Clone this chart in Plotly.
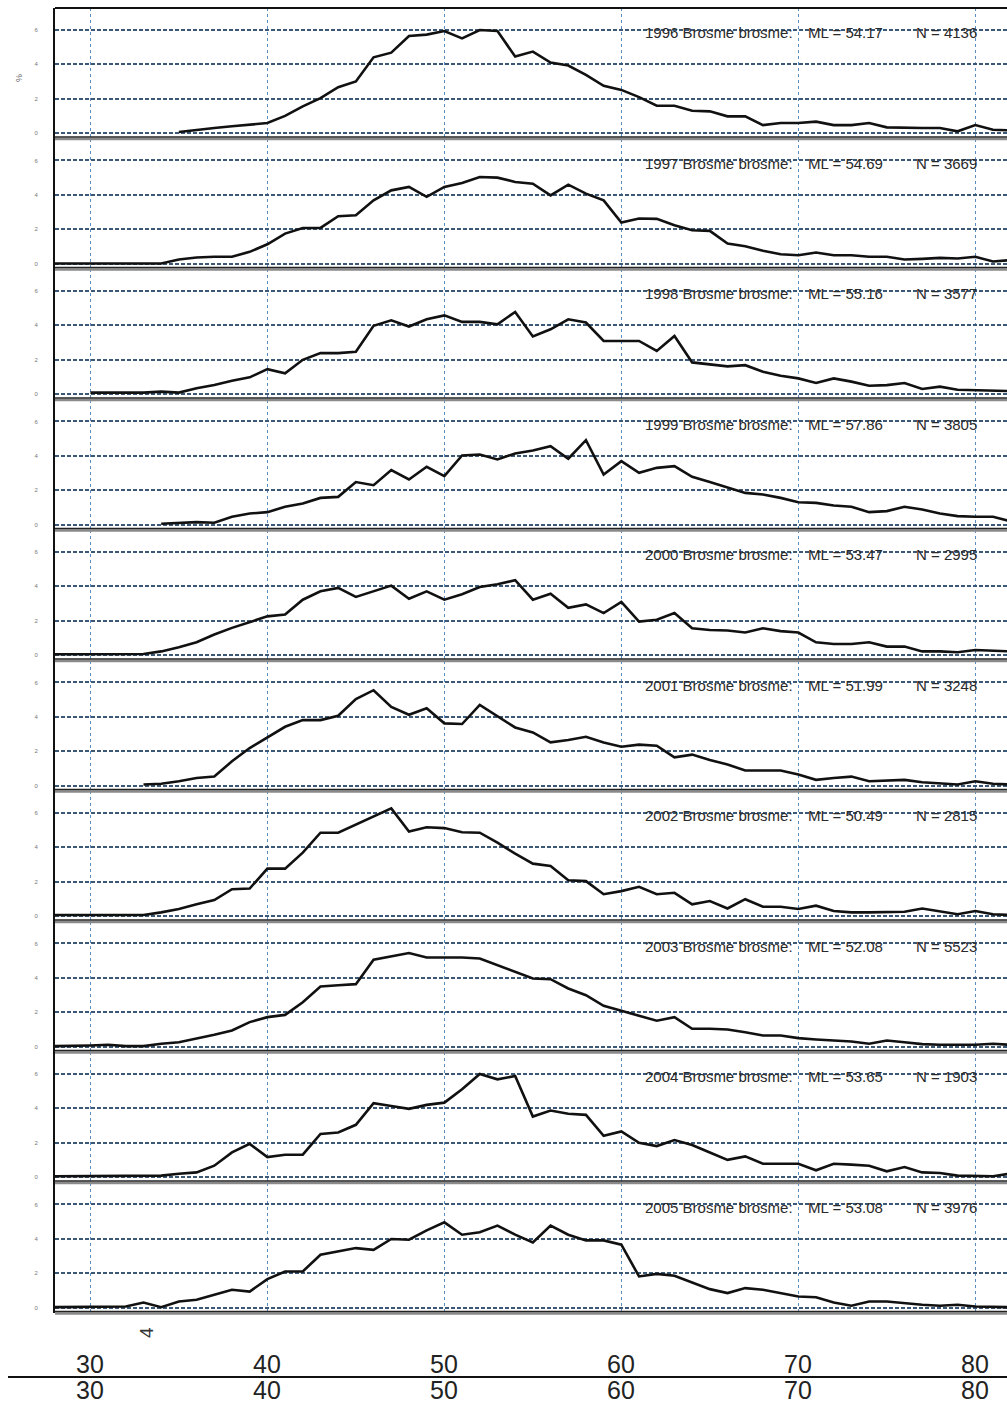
import plotly.graph_objects as go
from plotly.subplots import make_subplots

# ---------------- data (percent of fish per 1-cm length class) ----------------
years = [1996, 1997, 1998, 1999, 2000, 2001, 2002, 2003, 2004, 2005]
mean_length = ["54.17", "54.69", "55.16", "57.86", "53.47", "51.99", "50.49", "52.08", "53.65", "53.08"]
n_fish = ["4136", "3669", "3577", "3805", "2995", "3248", "2815", "5523", "1903", "3976"]
start_cm = [35, 28, 30, 34, 28, 33, 28, 28, 28, 28]

pct_1996 = [0.06, 0.19, 0.29, 0.39, 0.48, 0.58, 1.0, 1.55, 2.03, 2.67, 3.0, 4.41, 4.68, 5.65, 5.73,
            5.94, 5.51, 6.0, 5.94, 4.45, 4.74, 4.1, 3.93, 3.38, 2.75, 2.51, 2.09, 1.59, 1.59, 1.3,
            1.26, 0.97, 0.97, 0.46, 0.58, 0.58, 0.66, 0.46, 0.46, 0.58, 0.33, 0.29, 0.29, 0.29,
            0.1, 0.46, 0.19, 0.15]
pct_1997 = [0.0, 0.0, 0.04, 0.04, 0.0, 0.0, 0.0, 0.23, 0.35, 0.39, 0.39, 0.68, 1.12, 1.74, 2.07,
            2.07, 2.75, 2.81, 3.68, 4.26, 4.46, 3.88, 4.46, 4.69, 5.04, 5.0, 4.75, 4.65, 3.97,
            4.59, 4.07, 3.68, 2.38, 2.62, 2.6, 2.23, 1.94, 1.9, 1.16, 1.01, 0.74, 0.54, 0.48,
            0.64, 0.48, 0.48, 0.39, 0.39, 0.23, 0.27, 0.33, 0.29, 0.39, 0.12, 0.2]
pct_1998 = [0.08, 0.08, 0.08, 0.08, 0.14, 0.08, 0.33, 0.52, 0.77, 0.97, 1.45, 1.21, 1.99, 2.38,
            2.38, 2.46, 3.97, 4.29, 3.93, 4.35, 4.58, 4.2, 4.2, 4.06, 4.78, 3.35, 3.77, 4.35,
            4.16, 3.09, 3.09, 3.09, 2.51, 3.38, 1.84, 1.74, 1.61, 1.68, 1.3, 1.06, 0.91, 0.64,
            0.91, 0.72, 0.48, 0.52, 0.64, 0.29, 0.43, 0.25, 0.23, 0.21, 0.17]
pct_1999 = [0.04, 0.1, 0.14, 0.1, 0.45, 0.64, 0.72, 1.03, 1.22, 1.55, 1.61, 2.47, 2.29, 3.17,
            2.62, 3.36, 2.82, 4.02, 4.08, 3.79, 4.14, 4.31, 4.56, 3.83, 4.91, 2.91, 3.69, 3.01,
            3.3, 3.4, 2.78, 2.47, 2.14, 1.84, 1.75, 1.55, 1.3, 1.26, 1.11, 1.03, 0.72, 0.78,
            1.03, 0.87, 0.64, 0.49, 0.45, 0.45, 0.19]
pct_2000 = [0.04, 0.04, 0.04, 0.04, 0.04, 0.06, 0.21, 0.45, 0.74, 1.19, 1.58, 1.91, 2.25, 2.36,
            3.22, 3.71, 3.91, 3.38, 3.73, 4.04, 3.28, 3.71, 3.22, 3.54, 3.96, 4.12, 4.36, 3.22,
            3.57, 2.75, 2.95, 2.44, 3.09, 1.95, 2.05, 2.44, 1.56, 1.46, 1.43, 1.31, 1.56, 1.39,
            1.31, 0.74, 0.64, 0.64, 0.74, 0.49, 0.49, 0.21, 0.21, 0.16, 0.29, 0.25, 0.21]
pct_2001 = [0.06, 0.1, 0.25, 0.44, 0.52, 1.41, 2.18, 2.8, 3.42, 3.81, 3.81, 4.06, 5.03, 5.55,
            4.58, 4.12, 4.5, 3.62, 3.58, 4.69, 4.06, 3.38, 3.09, 2.51, 2.65, 2.84, 2.51, 2.26,
            2.38, 2.32, 1.64, 1.8, 1.49, 1.22, 0.87, 0.87, 0.87, 0.64, 0.33, 0.44, 0.52, 0.25,
            0.29, 0.33, 0.19, 0.14, 0.06, 0.25, 0.1, 0.06]
pct_2002 = [0.06, 0.06, 0.02, 0.02, 0.06, 0.06, 0.21, 0.41, 0.68, 0.93, 1.56, 1.6, 2.76, 2.76,
            3.69, 4.85, 4.85, 5.31, 5.81, 6.27, 4.92, 5.17, 5.12, 4.88, 4.85, 4.27, 3.63, 3.05,
            2.92, 2.08, 2.03, 1.27, 1.45, 1.7, 1.27, 1.35, 0.68, 0.87, 0.44, 0.98, 0.54, 0.54,
            0.41, 0.6, 0.29, 0.21, 0.21, 0.21, 0.25, 0.44, 0.29, 0.1, 0.29, 0.1, 0.06]
pct_2003 = [0.02, 0.02, 0.06, 0.1, 0.02, 0.02, 0.16, 0.25, 0.45, 0.68, 0.93, 1.42, 1.71, 1.84,
            2.58, 3.5, 3.57, 3.63, 5.05, 5.24, 5.44, 5.18, 5.18, 5.18, 5.13, 4.74, 4.31, 3.96,
            3.92, 3.38, 2.99, 2.37, 2.08, 1.79, 1.5, 1.71, 1.03, 1.03, 0.99, 0.83, 0.64, 0.64,
            0.49, 0.41, 0.35, 0.29, 0.16, 0.35, 0.25, 0.14, 0.1, 0.1, 0.1, 0.16, 0.1]
pct_2004 = [0.04, 0.04, 0.04, 0.04, 0.04, 0.08, 0.08, 0.19, 0.27, 0.66, 1.43, 1.93, 1.16, 1.3,
            1.3, 2.51, 2.59, 3.04, 4.3, 4.14, 3.97, 4.2, 4.33, 5.11, 6.0, 5.69, 5.88, 3.52, 3.87,
            3.68, 3.62, 2.4, 2.65, 1.99, 1.8, 2.15, 1.86, 1.43, 1.0, 1.2, 0.77, 0.77, 0.77, 0.39,
            0.77, 0.72, 0.66, 0.33, 0.58, 0.27, 0.23, 0.08, 0.04, 0.04, 0.2]
pct_2005 = [0.02, 0.02, 0.02, 0.02, 0.06, 0.29, 0.02, 0.35, 0.45, 0.74, 1.03, 0.93, 1.65, 2.1,
            2.1, 3.07, 3.27, 3.46, 3.36, 3.99, 3.95, 4.49, 4.96, 4.24, 4.38, 4.77, 4.24, 3.79,
            4.77, 4.24, 3.91, 3.91, 3.66, 1.81, 1.96, 1.85, 1.46, 1.07, 0.84, 1.13, 1.03, 0.84,
            0.64, 0.6, 0.29, 0.1, 0.35, 0.35, 0.25, 0.16, 0.1, 0.16, 0.06, 0.02, 0.02]

series = [pct_1996, pct_1997, pct_1998, pct_1999, pct_2000,
          pct_2001, pct_2002, pct_2003, pct_2004, pct_2005]

x_ticks = [30, 40, 50, 60, 70, 80]
x_tick_labels = ["30", "40", "50", "60", "70", "80"]
y_ticks = [0, 2, 4, 6]
y_tick_labels = ["0", "2", "4", "6"]

# ---------------- figure ----------------
W, H = 1007, 1403
ML, MR, MT, MB = 55, 0, 8, 90
PW, PH = W - ML - MR, H - MT - MB
XR = [28, 81.79]
YR = [-0.32, 7.28]
NP = len(years)

fig = make_subplots(rows=NP, cols=1, vertical_spacing=0)

FONT = "Liberation Sans, Arial, sans-serif"


def px_to_x(p):
    return XR[0] + (p - ML) * (XR[1] - XR[0]) / PW


def py_to_paper(p):
    return (MT + PH - p) / PH


annotations = []
for i, (yr, vals) in enumerate(zip(years, series)):
    xs = list(range(start_cm[i], start_cm[i] + len(vals)))
    fig.add_trace(go.Scatter(x=xs, y=vals, mode="lines",
                             line=dict(color="#111111", width=2.6),
                             hoverinfo="skip", showlegend=False),
                  row=i + 1, col=1)
    ax = "" if i == 0 else str(i + 1)
    tf = dict(family=FONT, size=15, color="#2a2a2a")
    annotations.append(dict(x=px_to_x(643), y=5.85, xref="x" + ax, yref="y" + ax,
                            text=f"{yr} Brosme brosme:", showarrow=False, xanchor="left",
                            yanchor="middle", font=tf))
    annotations.append(dict(x=px_to_x(806), y=5.85, xref="x" + ax, yref="y" + ax,
                            text=f"ML = {mean_length[i]}", showarrow=False, xanchor="left",
                            yanchor="middle", font=tf))
    annotations.append(dict(x=px_to_x(979), y=5.85, xref="x" + ax, yref="y" + ax,
                            text=f"N = {n_fish[i]}", showarrow=False, xanchor="right",
                            yanchor="middle", font=tf))

for i in range(NP):
    fig.update_xaxes(range=XR, tickvals=x_ticks, showticklabels=False, ticks="",
                     showgrid=True, gridcolor="#5a8cc0", griddash="dot", gridwidth=1.3,
                     zeroline=False, showline=False, row=i + 1, col=1)
    fig.update_yaxes(range=YR, tickvals=y_ticks, ticktext=y_tick_labels, ticks="",
                     tickfont=dict(family=FONT, size=6, color="#777777"), ticklabelstandoff=14,
                     showgrid=True, gridcolor="#3b5876", griddash="4px,2px", gridwidth=1.8,
                     zeroline=False, showline=True, linecolor="#111111", linewidth=2,
                     row=i + 1, col=1)

# bottom tick label rows (two identical rows separated by a rule)
for tv, tl in zip(x_ticks, x_tick_labels):
    for ypx in (1364, 1390):
        annotations.append(dict(x=tv, y=py_to_paper(ypx), xref="x" + str(NP), yref="paper",
                                text=tl, showarrow=False, xanchor="center", yanchor="middle",
                                font=dict(family=FONT, size=25, color="#222222")))

annotations.append(dict(x=(12 - ML) / PW, y=py_to_paper(72), xref="paper", yref="paper",
                        text="%", showarrow=False, textangle=-90,
                        font=dict(family=FONT, size=9, color="#666666")))
annotations.append(dict(x=(134 - ML) / PW, y=py_to_paper(1340), xref="paper", yref="paper",
                        text="4", showarrow=False, textangle=-90,
                        font=dict(family=FONT, size=19, color="#333333")))

shapes = []
px = 1.0 / PH
# white mask below the panel stack, left of the plot (keeps the frame ending at the last panel)
shapes.append(dict(type="rect", xref="paper", yref="paper", x0=-0.058, x1=0.02,
                   y0=py_to_paper(1352), y1=py_to_paper(1316), fillcolor="white",
                   line=dict(width=0), layer="above"))
for k in range(NP):
    yb = k / NP
    shapes.append(dict(type="line", xref="paper", yref="paper", x0=0, x1=1, y0=yb - 0.5 * px,
                       y1=yb - 0.5 * px, line=dict(color="#8a8a8a", width=2.5)))
    shapes.append(dict(type="line", xref="paper", yref="paper", x0=0, x1=1, y0=yb + 1.5 * px,
                       y1=yb + 1.5 * px, line=dict(color="#222222", width=1.5)))
shapes.append(dict(type="line", xref="paper", yref="paper", x0=0, x1=1, y0=1, y1=1,
                   line=dict(color="#111111", width=2)))
shapes.append(dict(type="line", xref="paper", yref="paper", x0=(8 - ML) / PW, x1=1.0,
                   y0=py_to_paper(1377), y1=py_to_paper(1377),
                   line=dict(color="#111111", width=2)))

fig.update_layout(width=W, height=H, margin=dict(l=ML, r=MR, t=MT, b=MB),
                  paper_bgcolor="white", plot_bgcolor="white", showlegend=False,
                  annotations=annotations, shapes=shapes)

fig.write_html("out.html")
